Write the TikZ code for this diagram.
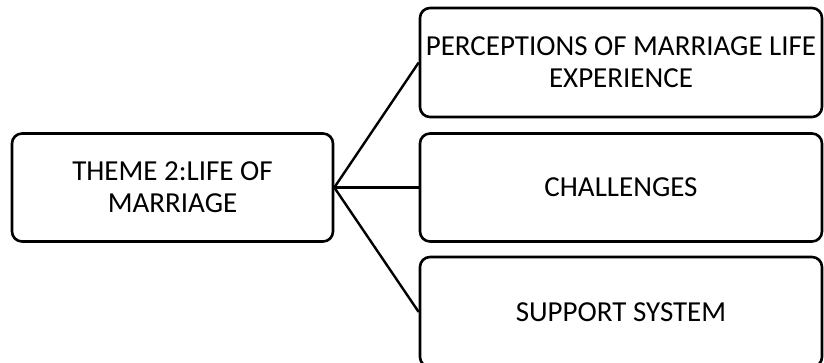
\documentclass[tikz,border=0pt]{standalone}
\usepackage{fontspec}
\setmainfont{Carlito}
\begin{document}
\begin{tikzpicture}[
    x=0.5pt, y=-0.5pt,
    every node/.style={font=\fontsize{14.5pt}{15.9pt}\selectfont},
    themebox/.style={rectangle, draw=black, line width=1.3pt, rounded corners=5pt, align=center, inner sep=0pt, minimum width=160.5pt, minimum height=54pt},
    subbox/.style={rectangle, draw=black, line width=1.3pt, rounded corners=5pt, align=center, inner sep=0pt, minimum width=201pt, minimum height=#1},
    subbox/.default={54pt},
    link/.style={draw=black, line width=1.2pt}
]
\useasboundingbox (0,0) rectangle (824,363);

\node[themebox] (theme) at (172.5,187.5) {THEME 2:LIFE OF\\MARRIAGE};
\node[subbox=54.5pt] (perc) at (621,62.5) {PERCEPTIONS OF MARRIAGE LIFE\\EXPERIENCE};
\node[subbox] (chal) at (621,187.5) {CHALLENGES};
\node[subbox=55pt] (supp) at (621,312) {SUPPORT SYSTEM};

\draw[link] (theme.east) -- (perc.west);
\draw[link] (theme.east) -- (chal.west);
\draw[link] (theme.east) -- (supp.west);

\end{tikzpicture}
\end{document}
